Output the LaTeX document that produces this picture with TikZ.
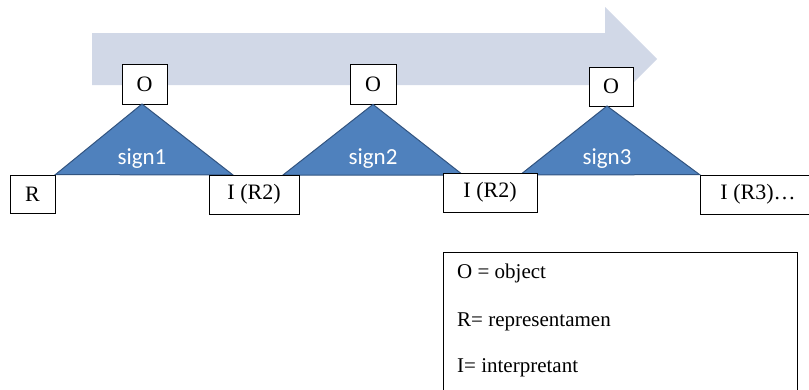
\documentclass[tikz,border=0pt]{standalone}
\usepackage{fontspec}
\setmainfont{Liberation Serif}
\newfontfamily\signfont{Carlito}
\definecolor{arrowfill}{RGB}{209,216,231}
\definecolor{trifill}{RGB}{79,129,189}
\definecolor{triedge}{RGB}{50,84,128}
\begin{document}
\begin{tikzpicture}[x=1pt,y=-1pt,
  box/.style={draw=black,line width=0.8pt,fill=white,inner sep=0pt,font=\fontsize{22}{26}\selectfont},
  tri/.style={fill=trifill,draw=triedge,line width=1pt,line join=miter},
  signlabel/.style={text=white,font=\signfont\fontsize{23}{27}\selectfont,inner sep=0pt},
  legtext/.style={anchor=west,inner sep=0pt,font=\fontsize{21}{25}\selectfont}]
\useasboundingbox (0,0) rectangle (809,389);
% big process arrow
\fill[arrowfill] (92,33) -- (605,33) -- (605,7) -- (657,59) -- (605,111) -- (605,85) -- (92,85) -- cycle;
% boxes
\node[box,minimum width=45pt,minimum height=40pt] (O1) at (144.5,84) {O};
\node[box,minimum width=46pt,minimum height=40pt] (O2) at (373,84) {O};
\node[box,minimum width=44pt,minimum height=39pt] (O3) at (611,86.5) {O};
\node[box,minimum width=45pt,minimum height=38pt] (R) at (32.5,194) {R};
\node[box,minimum width=90pt,minimum height=39pt] (I1) at (254,194.5) {I (R2)};
\node[box,minimum width=94pt,minimum height=39pt] (I2) at (490,192.5) {I (R2)};
\node[box,minimum width=116pt,minimum height=39pt] (I3) at (758,194.5) {I (R3)\ldots};
% sign triangles
\coordinate (t1l) at (R.north east);
\coordinate (t1r) at (233,175);
\coordinate (t2l) at (283,175);
\coordinate (t2r) at (463,175);
\coordinate (t3l) at (520,175);
\coordinate (t3r) at (I3.north west);
\draw[tri] (t1l) -- (142,104) -- (t1r) -- cycle;
\draw[tri] (t2l) -- (O2.south) -- (t2r) -- cycle;
\draw[tri] (t3l) -- (607,106) -- (t3r) -- cycle;
\node[signlabel] (s1) at (142,159) {sign1};
\node[signlabel] (s2) at (373,159) {sign2};
\node[signlabel] (s3) at (607,159) {sign3};
% redraw boxes touching triangles on top
\node[box,minimum width=90pt,minimum height=39pt] at (I1) {I (R2)};
\node[box,minimum width=94pt,minimum height=39pt] at (I2) {I (R2)};
% legend
\node[draw=black,line width=0.8pt,fill=white,anchor=north west,minimum width=354pt,minimum height=160pt,inner sep=0pt] (legend) at (443,252) {};
\node[legtext] (l1) at (457,273) {O = object};
\node[legtext] (l2) at (457,322) {R= representamen};
\node[legtext] (l3) at (457,368) {I= interpretant};
\end{tikzpicture}
\end{document}
